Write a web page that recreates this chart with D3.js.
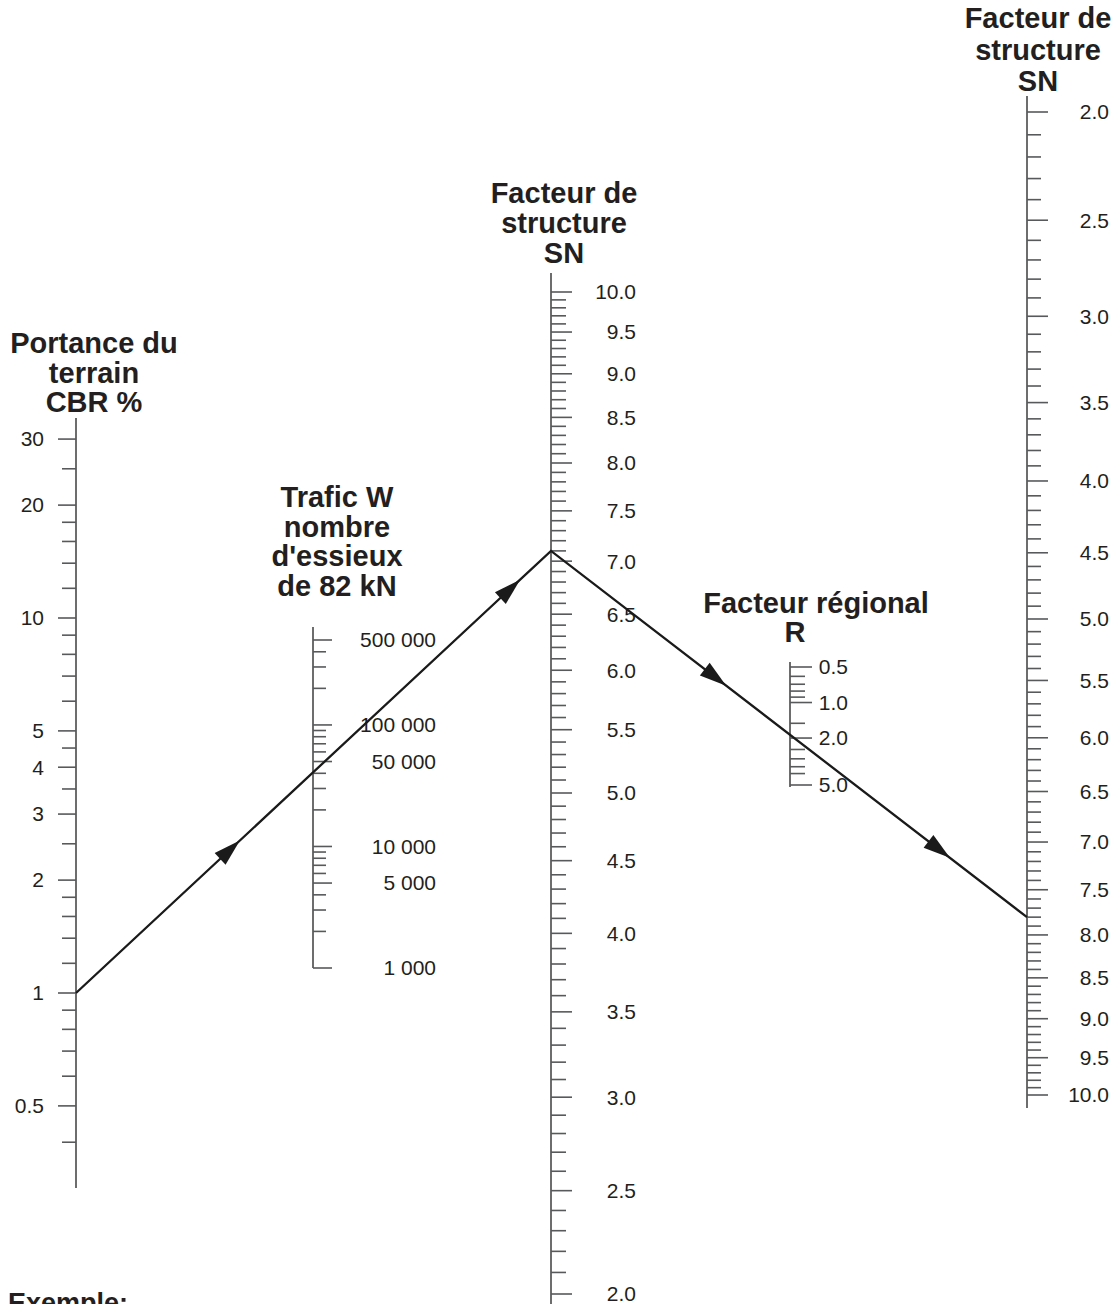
<!DOCTYPE html>
<html>
<head>
<meta charset="utf-8">
<script src="https://cdn.jsdelivr.net/npm/d3@7"></script>
<style>
  body { margin: 0; background: #fff; }
  text { font-family: "Liberation Sans", Arial, sans-serif; fill: #231f20; }
</style>
</head>
<body>
<div id="chart"></div>
<script>
// ---- data ----
const cbrTicks = [0.4, 0.5, 0.6, 0.7, 0.8, 0.9, 1, 1.2, 1.4, 1.6, 1.8, 2, 2.5, 3, 3.5, 4, 4.5, 5, 6, 7, 8, 9, 10, 12, 14, 16, 18, 20, 25, 30];
const cbrLabels = [0.5, 1, 2, 3, 4, 5, 10, 20, 30];

const trafficTicks = [1000, 2000, 3000, 4000, 5000, 6000, 7000, 8000, 9000, 10000, 20000, 30000, 40000, 50000,
  60000, 70000, 80000, 90000, 100000, 200000, 300000, 400000, 500000];
const trafficLabels = [1000, 5000, 10000, 50000, 100000, 500000];

const snTicks = d3.range(20, 101).map(d => d / 10);
const snLabels = [2.0, 2.5, 3.0, 3.5, 4.0, 4.5, 5.0, 5.5, 6.0, 6.5, 7.0, 7.5, 8.0, 8.5, 9.0, 9.5, 10.0];

const rTicks = [0.5, 0.6, 0.7, 0.8, 0.9, 1.0, 1.5, 2.0, 2.5, 3.0, 3.5, 4.0, 5.0];
const rLabels = [0.5, 1.0, 2.0, 5.0];

// worked example
const exampleCbr = 1;
const exampleTraffic = 42000;
const exampleSn = 7.1;
const exampleR = 2.0;
const exampleSnWeighted = 7.8;

// ---- layout ----
const width = 1119, height = 1304;
const xCbr = 76, xTraffic = 313, xSn = 551, xR = 790, xSnW = 1027;

const svg = d3.select("#chart").append("svg")
  .attr("width", width)
  .attr("height", height);

// scales
const yCbr = d3.scaleLog().domain([1, 10]).range([993, 618]);
const yTraffic = d3.scaleLog().domain([1000, 500000]).range([968, 640]);
const snLog = d3.scaleLog().domain([2 + 2.5, 10 + 2.5]).range([1294, 292]);
const ySn = v => snLog(v + 2.5);
const snWLog = d3.scaleLog().domain([2 + 1.7, 10 + 1.7]).range([112, 1095]);
const ySnW = v => snWLog(v + 1.7);
const yR = d3.scaleLog().domain([0.5, 5]).range([667, 785]);

const spaceFmt = d3.formatLocale({decimal: ".", thousands: " ", grouping: [3], currency: ["", ""]}).format(",");
const f1 = d3.format(".1f");

const tickColor = "#58595b";
const lineColor = "#3c3c3c";

function axisLine(x, y0, y1) {
  svg.append("line")
    .attr("x1", x).attr("x2", x)
    .attr("y1", y0).attr("y2", y1)
    .attr("stroke", lineColor)
    .attr("stroke-width", 1.5);
}

function drawAxis(x, scaleFn, ticks, labels, side, minor, major, labelX, fmt) {
  const g = svg.append("g").attr("transform", "translate(" + x + ",0)");
  const dir = side === "left" ? -1 : 1;
  g.selectAll(".minor")
    .data(ticks.filter(t => !labels.some(l => Math.abs(l - t) < 1e-9)))
    .enter().append("line")
    .attr("x1", 0).attr("x2", dir * minor)
    .attr("y1", d => scaleFn(d)).attr("y2", d => scaleFn(d))
    .attr("stroke", tickColor).attr("stroke-width", 1.6);
  g.selectAll(".major")
    .data(labels)
    .enter().append("line")
    .attr("x1", 0).attr("x2", dir * major)
    .attr("y1", d => scaleFn(d)).attr("y2", d => scaleFn(d))
    .attr("stroke", tickColor).attr("stroke-width", 1.6);
  g.selectAll(".lbl")
    .data(labels)
    .enter().append("text")
    .attr("x", labelX)
    .attr("y", d => scaleFn(d))
    .attr("dy", "0.35em")
    .attr("text-anchor", "end")
    .style("font-size", "21px")
    .text(fmt);
}

function title(lines, cx, y0, step) {
  svg.append("text")
    .attr("text-anchor", "middle")
    .style("font-size", "29px")
    .style("font-weight", "bold")
    .selectAll("tspan")
    .data(lines)
    .enter().append("tspan")
    .attr("x", cx)
    .attr("y", (d, i) => y0 + i * step)
    .text(d => d);
}

// CBR axis
axisLine(xCbr, 418, 1188);
drawAxis(xCbr, yCbr, cbrTicks, cbrLabels, "left", 14, 18, -32, d => String(d));
title(["Portance du", "terrain", "CBR %"], 94, 353, 29.5);

// Traffic axis
axisLine(xTraffic, 627, yTraffic(1000));
drawAxis(xTraffic, yTraffic, trafficTicks, trafficLabels, "right", 13, 19, 123, spaceFmt);
title(["Trafic W", "nombre", "d'essieux", "de 82 kN"], 337, 507, 29.5);

// SN (middle)
axisLine(xSn, 273, height + 5);
drawAxis(xSn, ySn, snTicks, snLabels, "right", 15, 21, 85, f1);
title(["Facteur de", "structure", "SN"], 564, 203, 30);

// R axis
axisLine(xR, 662, 787);
drawAxis(xR, yR, rTicks, rLabels, "right", 15, 22, 58, f1);
svg.append("text").attr("x", 816).attr("y", 613).attr("text-anchor", "middle")
  .style("font-size", "29px").style("font-weight", "bold").text("Facteur régional");
svg.append("text").attr("x", 795).attr("y", 642).attr("text-anchor", "middle")
  .style("font-size", "29px").style("font-weight", "bold").text("R");

// SN weighted (right)
axisLine(xSnW, 96, 1108);
drawAxis(xSnW, ySnW, snTicks, snLabels, "right", 14, 21, 82, f1);
title(["Facteur de", "structure", "SN"], 1038, 28, 31.5);

// example
svg.append("text").attr("x", 8).attr("y", 1312)
  .style("font-size", "27px").style("font-weight", "bold").text("Exemple:");

const pts = [
  [xCbr, yCbr(exampleCbr)],
  [xSn, ySn(exampleSn)],
  [xSnW, ySnW(exampleSnWeighted)]
];

svg.append("path")
  .attr("d", d3.line()(pts))
  .attr("fill", "none")
  .attr("stroke", "#1a1a1a")
  .attr("stroke-width", 2.3);

// arrowheads along the two segments
const arrows = [
  {seg: 0, t: 0.345},
  {seg: 0, t: 0.935},
  {seg: 1, t: 0.368},
  {seg: 1, t: 0.838}
];
arrows.forEach(a => {
  const p0 = pts[a.seg], p1 = pts[a.seg + 1];
  const x = p0[0] + (p1[0] - p0[0]) * a.t;
  const y = p0[1] + (p1[1] - p0[1]) * a.t;
  const ang = Math.atan2(p1[1] - p0[1], p1[0] - p0[0]) * 180 / Math.PI;
  svg.append("path")
    .attr("d", "M0,0 L-27,-8 L-27,8 Z")
    .attr("transform", "translate(" + x + "," + y + ") rotate(" + ang + ")")
    .attr("fill", "#1a1a1a");
});
</script>
</body>
</html>
